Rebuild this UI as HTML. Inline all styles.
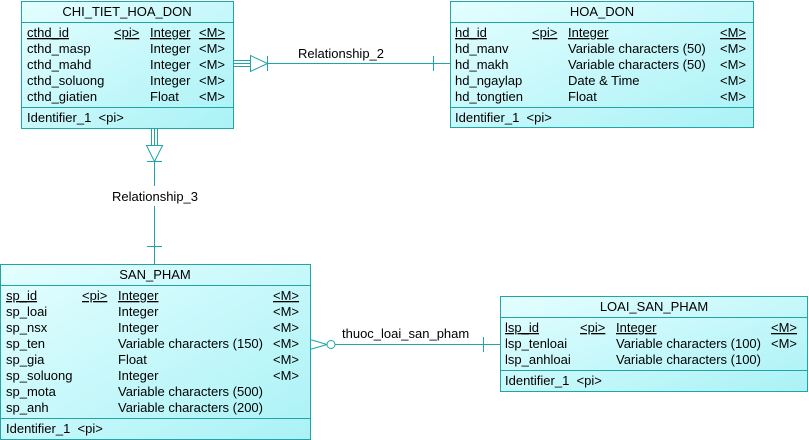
<!DOCTYPE html>
<html><head><meta charset="utf-8"><style>
html,body{margin:0;padding:0;background:#fff;width:809px;height:440px;overflow:hidden}
svg{display:block}
text{font-family:"Liberation Sans",Arial,sans-serif;font-size:13px;fill:#000}
.u{text-decoration:underline}
</style></head><body>
<svg width="809" height="440" xmlns="http://www.w3.org/2000/svg">
<defs>
<linearGradient id="g" x1="0" y1="0" x2="1" y2="1">
<stop offset="0" stop-color="#e4feff"/><stop offset="1" stop-color="#aaf2f6"/>
</linearGradient>
</defs>
<g stroke="#1fa5a5" stroke-width="1" fill="none">
<line x1="233" y1="60.5" x2="250" y2="60.5"/><line x1="233" y1="63.5" x2="250" y2="63.5"/><line x1="233" y1="66.5" x2="250" y2="66.5"/>
<polygon points="250.5,55.5 250.5,71.5 267.5,63.5"/>
<line x1="267.5" y1="56" x2="267.5" y2="71"/>
<line x1="267" y1="63.5" x2="450" y2="63.5"/>
<line x1="433.5" y1="56" x2="433.5" y2="71"/>
<line x1="151.5" y1="128" x2="151.5" y2="145"/><line x1="154.5" y1="128" x2="154.5" y2="145"/><line x1="157.5" y1="128" x2="157.5" y2="145"/>
<polygon points="146.5,145.5 162.5,145.5 154.5,161.5"/>
<line x1="147" y1="161.5" x2="162" y2="161.5"/>
<line x1="154.5" y1="161" x2="154.5" y2="186"/>
<line x1="154.5" y1="206" x2="154.5" y2="264"/>
<line x1="147" y1="246.5" x2="162" y2="246.5"/>
<line x1="310" y1="339.5" x2="327" y2="344.5"/><line x1="310" y1="349.5" x2="327" y2="344.5"/>
<circle cx="331" cy="344.5" r="4"/>
<line x1="335" y1="344.5" x2="500" y2="344.5"/>
<line x1="483.5" y1="337" x2="483.5" y2="352"/>
</g>
<text x="298" y="58">Relationship_2</text>
<text x="112" y="201">Relationship_3</text>
<text x="342" y="338">thuoc_loai_san_pham</text>

<rect x="21.5" y="1.5" width="212" height="127" fill="url(#g)" stroke="#1fa5a5"/>
<line x1="21" y1="22.5" x2="233" y2="22.5" stroke="#1fa5a5"/>
<line x1="21" y1="107.5" x2="233" y2="107.5" stroke="#1fa5a5"/>
<text x="127" y="16" text-anchor="middle">CHI_TIET_HOA_DON</text>
<text x="27" y="37" class="u">cthd_id</text><text x="114" y="37" class="u">&lt;pi&gt;</text><text x="150" y="37" class="u">Integer</text><text x="199" y="37" class="u">&lt;M&gt;</text>
<text x="27" y="53">cthd_masp</text><text x="150" y="53">Integer</text><text x="199" y="53">&lt;M&gt;</text>
<text x="27" y="69">cthd_mahd</text><text x="150" y="69">Integer</text><text x="199" y="69">&lt;M&gt;</text>
<text x="27" y="85">cthd_soluong</text><text x="150" y="85">Integer</text><text x="199" y="85">&lt;M&gt;</text>
<text x="27" y="101">cthd_giatien</text><text x="150" y="101">Float</text><text x="199" y="101">&lt;M&gt;</text>
<text x="27" y="122">Identifier_1 &#160;&lt;pi&gt;</text>

<rect x="450.5" y="1.5" width="303" height="126" fill="url(#g)" stroke="#1fa5a5"/>
<line x1="450" y1="22.5" x2="753" y2="22.5" stroke="#1fa5a5"/>
<line x1="450" y1="107.5" x2="753" y2="107.5" stroke="#1fa5a5"/>
<text x="602" y="16" text-anchor="middle">HOA_DON</text>
<text x="455" y="37" class="u">hd_id</text><text x="532" y="37" class="u">&lt;pi&gt;</text><text x="568" y="37" class="u">Integer</text><text x="720" y="37" class="u">&lt;M&gt;</text>
<text x="455" y="53">hd_manv</text><text x="568" y="53">Variable characters (50)</text><text x="720" y="53">&lt;M&gt;</text>
<text x="455" y="69">hd_makh</text><text x="568" y="69">Variable characters (50)</text><text x="720" y="69">&lt;M&gt;</text>
<text x="455" y="85">hd_ngaylap</text><text x="568" y="85">Date &amp; Time</text><text x="720" y="85">&lt;M&gt;</text>
<text x="455" y="101">hd_tongtien</text><text x="568" y="101">Float</text><text x="720" y="101">&lt;M&gt;</text>
<text x="455" y="122">Identifier_1 &#160;&lt;pi&gt;</text>

<rect x="0.5" y="264.5" width="310" height="175" fill="url(#g)" stroke="#1fa5a5"/>
<line x1="0" y1="285.5" x2="310" y2="285.5" stroke="#1fa5a5"/>
<line x1="0" y1="418.5" x2="310" y2="418.5" stroke="#1fa5a5"/>
<text x="155" y="279" text-anchor="middle">SAN_PHAM</text>
<text x="6" y="300" class="u">sp_id</text><text x="82" y="300" class="u">&lt;pi&gt;</text><text x="118" y="300" class="u">Integer</text><text x="273" y="300" class="u">&lt;M&gt;</text>
<text x="6" y="316">sp_loai</text><text x="118" y="316">Integer</text><text x="273" y="316">&lt;M&gt;</text>
<text x="6" y="332">sp_nsx</text><text x="118" y="332">Integer</text><text x="273" y="332">&lt;M&gt;</text>
<text x="6" y="348">sp_ten</text><text x="118" y="348">Variable characters (150)</text><text x="273" y="348">&lt;M&gt;</text>
<text x="6" y="364">sp_gia</text><text x="118" y="364">Float</text><text x="273" y="364">&lt;M&gt;</text>
<text x="6" y="380">sp_soluong</text><text x="118" y="380">Integer</text><text x="273" y="380">&lt;M&gt;</text>
<text x="6" y="396">sp_mota</text><text x="118" y="396">Variable characters (500)</text>
<text x="6" y="412">sp_anh</text><text x="118" y="412">Variable characters (200)</text>
<text x="6" y="433">Identifier_1 &#160;&lt;pi&gt;</text>

<rect x="500.5" y="296.5" width="307" height="95" fill="url(#g)" stroke="#1fa5a5"/>
<line x1="500" y1="317.5" x2="808" y2="317.5" stroke="#1fa5a5"/>
<line x1="500" y1="370.5" x2="808" y2="370.5" stroke="#1fa5a5"/>
<text x="654" y="311" text-anchor="middle">LOAI_SAN_PHAM</text>
<text x="505" y="332" class="u">lsp_id</text><text x="580" y="332" class="u">&lt;pi&gt;</text><text x="616" y="332" class="u">Integer</text><text x="771" y="332" class="u">&lt;M&gt;</text>
<text x="505" y="348">lsp_tenloai</text><text x="616" y="348">Variable characters (100)</text><text x="771" y="348">&lt;M&gt;</text>
<text x="505" y="364">lsp_anhloai</text><text x="616" y="364">Variable characters (100)</text>
<text x="505" y="385">Identifier_1 &#160;&lt;pi&gt;</text>
</svg>
</body></html>
